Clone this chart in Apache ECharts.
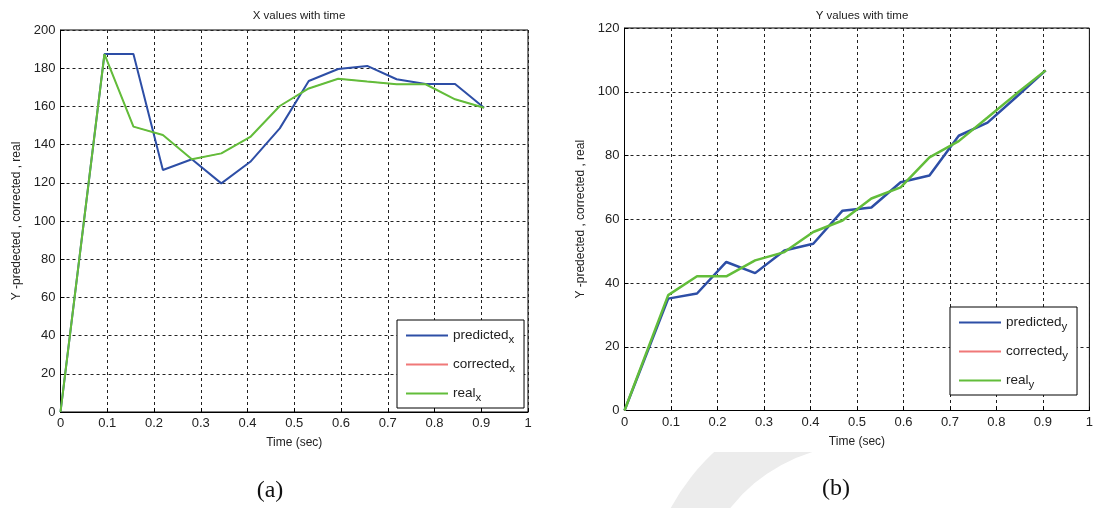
<!DOCTYPE html>
<html>
<head>
<meta charset="utf-8">
<script src="https://cdn.jsdelivr.net/npm/echarts@6/dist/echarts.min.js"></script>
<style>
html,body{margin:0;padding:0;background:#fff;}
#c{width:1096px;height:508px;}
</style>
</head>
<body>
<div id="c"></div>
<script>
// ---- data ----
const time = [0, 0.094, 0.156, 0.219, 0.281, 0.344, 0.406, 0.469, 0.531, 0.594, 0.656, 0.719, 0.781, 0.844, 0.906];
const predictedX = [0, 187.4, 187.4, 126.7, 132.3, 119.7, 131, 148.5, 173.3, 179.6, 181.2, 174.2, 171.7, 171.7, 159.3];
const correctedX = [0, 187.4, 149.4, 145, 132.3, 135.4, 144, 160.2, 169.4, 174.5, 173, 171.6, 171.6, 163.7, 159.3];
const realX      = [0, 187.4, 149.4, 145, 132.3, 135.4, 144, 160.2, 169.4, 174.5, 173, 171.6, 171.6, 163.7, 159.3];
const predictedY = [0, 35.1, 36.7, 46.6, 43.1, 50.2, 52.3, 62.7, 63.7, 71.6, 73.7, 86.2, 90.3, 98.5, 106.7];
const correctedY = [0, 36.2, 42.1, 42.1, 47.1, 49.7, 56, 59.6, 66.5, 70, 79.4, 84.5, 91.9, 99.5, 106.7];
const realY      = [0, 36.2, 42.1, 42.1, 47.1, 49.7, 56, 59.6, 66.5, 70, 79.4, 84.5, 91.9, 99.5, 106.7];
const titles = ['X values with time', 'Y values with time'];
const xName = 'Time (sec)';
const yName = 'Y -predected , corrected , real';
const panelLabels = ['(a)', '(b)'];

const pairs = (t, v) => t.map((x, i) => [x, v[i]]);
const BLUE = '#2d4ea6', RED = '#f07878', GREEN = '#62bd3a';
const FONT = 'Liberation Sans, Arial, sans-serif';

function xAxis(gi) {
  return {
    type: 'value', gridIndex: gi, min: 0, max: 1, interval: 0.1,
    name: xName, nameLocation: 'middle', nameGap: 25,
    nameTextStyle: {fontFamily: FONT, fontSize: 12, color: '#222'},
    axisLine: {show: true, onZero: false, lineStyle: {color: '#000', width: 1}},
    axisTick: {show: true, inside: true, length: 4, lineStyle: {color: '#000'}},
    axisLabel: {fontFamily: FONT, fontSize: 13, color: '#222', margin: 5},
    splitLine: {show: true, lineStyle: {color: '#222', type: [3, 3], width: 1}}
  };
}
function yAxis(gi, max) {
  return {
    type: 'value', gridIndex: gi, min: 0, max: max, interval: 20,
    name: yName, nameLocation: 'middle', nameGap: 38,
    nameTextStyle: {fontFamily: FONT, fontSize: 12, color: '#222'},
    axisLine: {show: true, lineStyle: {color: '#000', width: 1}},
    axisTick: {show: true, inside: true, length: 4, lineStyle: {color: '#000'}},
    axisLabel: {fontFamily: FONT, fontSize: 13, color: '#222', margin: 5},
    splitLine: {show: true, lineStyle: {color: '#222', type: [3, 3], width: 1}}
  };
}
function line(name, gi, data, color, w, z) {
  return {
    type: 'line', name: name, xAxisIndex: gi, yAxisIndex: gi,
    data: data, showSymbol: false, symbol: 'none', z: z,
    lineStyle: {color: color, width: w}, itemStyle: {color: color},
    animation: false
  };
}
function legend(names, left, top) {
  return {
    data: names, orient: 'vertical', left: left, top: top,
    icon: 'rect', itemWidth: 42, itemHeight: 2, itemGap: 8,
    padding: [5, 9, 4, 9],
    borderColor: '#000', borderWidth: 1, backgroundColor: '#fff',
    selectedMode: false,
    formatter: n => { const p = n.split('_'); return '{n|' + p[0] + '}{s|' + p[1] + '}'; },
    textStyle: {
      fontFamily: FONT, fontSize: 13.5, color: '#222',
      rich: {
        n: {fontFamily: FONT, fontSize: 13.5, color: '#222', lineHeight: 20},
        s: {fontFamily: FONT, fontSize: 11.5, color: '#222', padding: [9, 0, 0, 0], lineHeight: 20}
      }
    }
  };
}

const chart = echarts.init(document.getElementById('c'), null, {renderer: 'canvas'});
chart.setOption({
  backgroundColor: '#fff',
  animation: false,
  title: [
    {text: titles[0], left: 294, top: 5, textAlign: 'center', textStyle: {fontFamily: FONT, fontSize: 11.5, fontWeight: 'normal', color: '#222'}},
    {text: titles[1], left: 857, top: 5, textAlign: 'center', textStyle: {fontFamily: FONT, fontSize: 11.5, fontWeight: 'normal', color: '#222'}},
    {text: panelLabels[0], left: 265, top: 474, textAlign: 'center', textStyle: {fontFamily: 'Liberation Serif, Times New Roman, serif', fontSize: 24, fontWeight: 'normal', color: '#111'}},
    {text: panelLabels[1], left: 831, top: 472, textAlign: 'center', textStyle: {fontFamily: 'Liberation Serif, Times New Roman, serif', fontSize: 24, fontWeight: 'normal', color: '#111'}}
  ],
  grid: [
    {left: 60.5, right: 568, top: 30, bottom: 96, show: true, borderColor: '#000', borderWidth: 1, backgroundColor: 'transparent'},
    {left: 624.5, right: 6, top: 28, bottom: 97.5, show: true, borderColor: '#000', borderWidth: 1, backgroundColor: 'transparent'}
  ],
  xAxis: [xAxis(0), xAxis(1)],
  yAxis: [yAxis(0, 200), yAxis(1, 120)],
  legend: [
    legend(['predicted_x', 'corrected_x', 'real_x'], 397, 320),
    legend(['predicted_y', 'corrected_y', 'real_y'], 950, 307)
  ],
  graphic: [
    {type: 'sector', z: -10, shape: {cx: 860, cy: 610, r0: 165, r: 215, startAngle: Math.PI * 0.9, endAngle: 4.606}, style: {fill: '#ececec'}},
    {type: 'rect', z: -9, shape: {x: 0, y: 0, width: 1096, height: 452}, style: {fill: '#fff'}}
  ],
  series: [
    line('predicted_x', 0, pairs(time, predictedX), BLUE, 2, 3),
    line('corrected_x', 0, pairs(time, correctedX), RED, 1, 4),
    line('real_x', 0, pairs(time, realX), GREEN, 2, 5),
    line('predicted_y', 1, pairs(time, predictedY), BLUE, 2.5, 3),
    line('corrected_y', 1, pairs(time, correctedY), RED, 1, 4),
    line('real_y', 1, pairs(time, realY), GREEN, 2.5, 5)
  ]
});
</script>
</body>
</html>
